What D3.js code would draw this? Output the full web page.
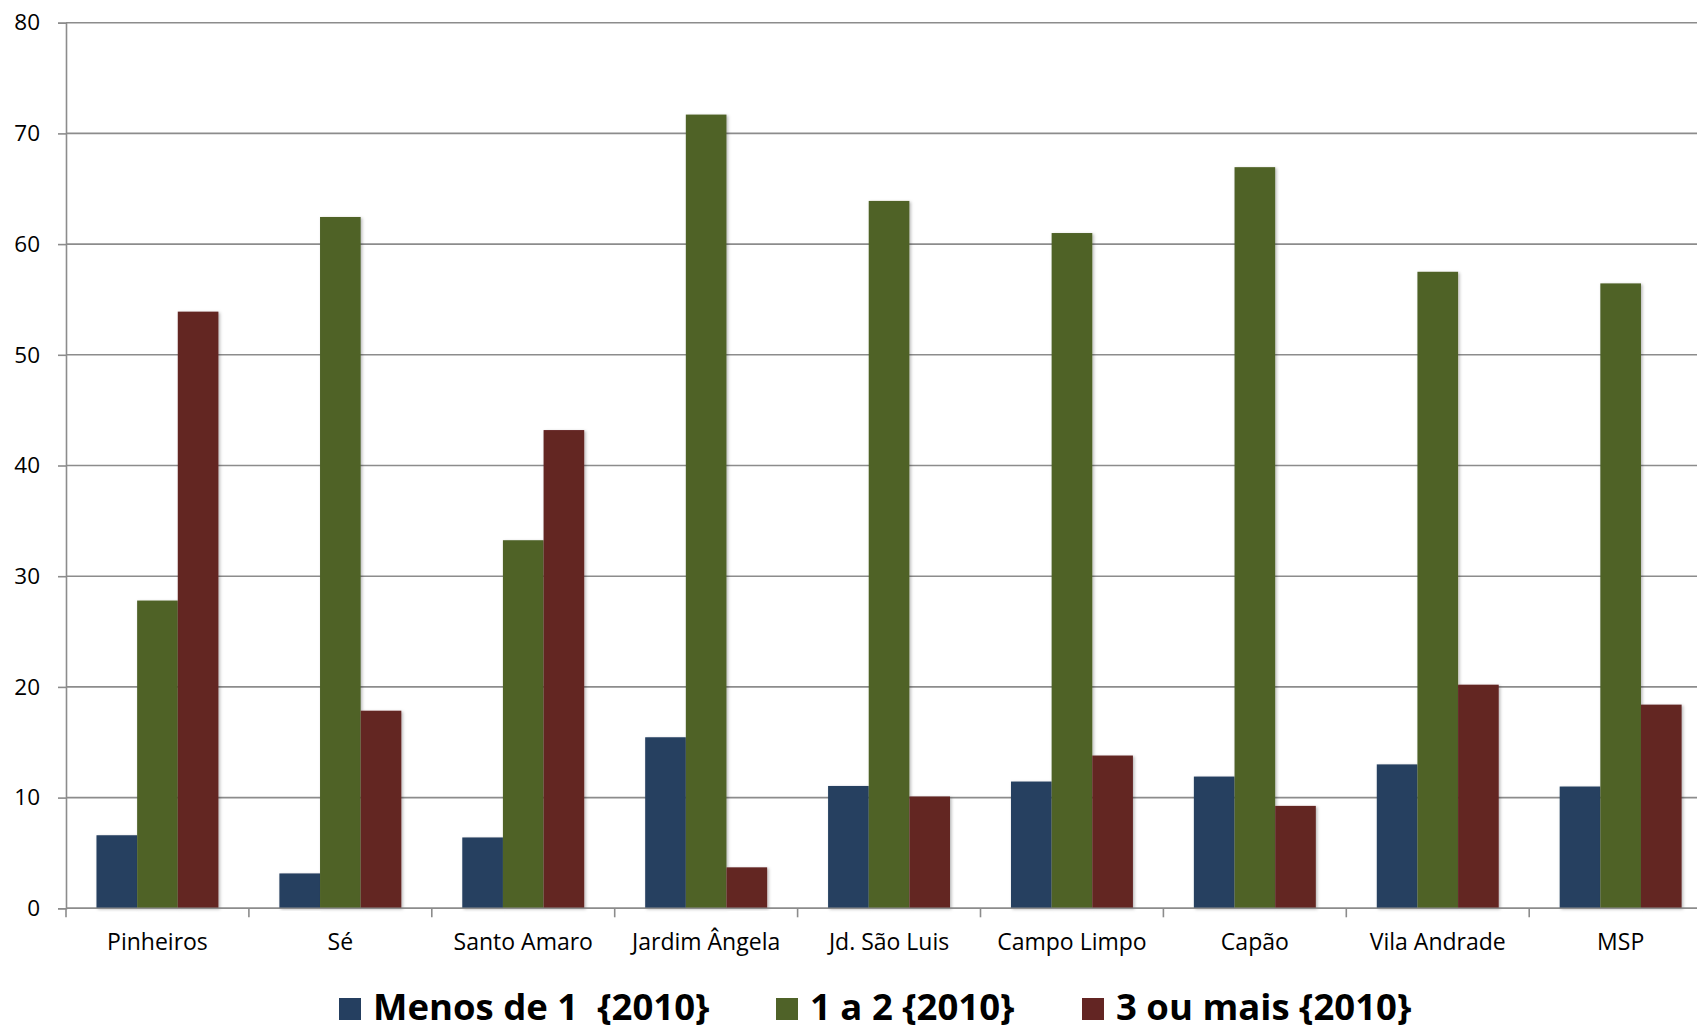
<!DOCTYPE html>
<html>
<head>
<meta charset="utf-8">
<script src="https://cdn.jsdelivr.net/npm/d3@7"></script>
<style>
  html, body { margin: 0; padding: 0; background: #fff; overflow: hidden; }
  svg { display: block; }
  text { font-family: "Open Sans", "DejaVu Sans", sans-serif; fill: #000; }
</style>
</head>
<body>
<svg id="chart" width="1697" height="1031"></svg>
<script>
// ---- data ----
const categories = ["Pinheiros", "Sé", "Santo Amaro", "Jardim Ângela", "Jd. São Luis", "Campo Limpo", "Capão", "Vila Andrade", "MSP"];
const seriesNames = ["Menos de 1  {2010}", "1 a 2 {2010}", "3 ou mais {2010}"];
const menosDe1 = [6.6, 3.15, 6.4, 15.45, 11.05, 11.45, 11.9, 13.0, 11.0];
const umADois  = [27.8, 62.45, 33.25, 71.7, 63.9, 61.0, 66.95, 57.5, 56.45];
const tresOuMais = [53.9, 17.85, 43.2, 3.7, 10.1, 13.8, 9.25, 20.2, 18.4];
const yTicks = [0, 10, 20, 30, 40, 50, 60, 70, 80];
const colors = ["#253F60", "#4F6228", "#632523"];

const seriesValues = [menosDe1, umADois, tresOuMais];

// ---- layout ----
const W = 1697, H = 1031;
const left = 66, bandW = 182.9, yBottom = 908.3, yTop = 22.7;

const svg = d3.select("#chart");
const defs = svg.append("defs");
const f = defs.append("filter").attr("id", "shadow").attr("x", "-20%").attr("y", "-5%").attr("width", "140%").attr("height", "110%");
f.append("feDropShadow").attr("dx", 1.5).attr("dy", 1).attr("stdDeviation", 1.5).attr("flood-color", "#000").attr("flood-opacity", 0.28);

const x = d3.scaleBand().domain(categories).range([left, left + bandW * categories.length]).paddingInner(0).paddingOuter(0);
const x1 = d3.scaleBand().domain(d3.range(seriesNames.length)).range([bandW / 6, bandW * 5 / 6]).padding(0);
const y = d3.scaleLinear().domain([0, 80]).range([yBottom, yTop]);

// gridlines
svg.append("g").selectAll("line").data(yTicks).join("line")
  .attr("x1", left).attr("x2", W)
  .attr("y1", d => y(d)).attr("y2", d => y(d))
  .attr("stroke", "#8c8c8c").attr("stroke-width", 1.6);

// y axis
const yAxis = svg.append("g").attr("transform", `translate(${left},0)`)
  .call(d3.axisLeft(y).tickValues(yTicks).tickSize(8).tickPadding(18));
yAxis.select(".domain").attr("stroke", "#8c8c8c").attr("stroke-width", 1.6);
yAxis.selectAll(".tick line").attr("stroke", "#8c8c8c").attr("stroke-width", 1.6);
yAxis.selectAll(".tick text").style("font-size", "22.5px").style("font-family", '"Open Sans", sans-serif').attr("fill", "#000");

// bars
const groups = svg.append("g").selectAll("g").data(categories).join("g")
  .attr("transform", d => `translate(${x(d)},0)`);
groups.selectAll("rect")
  .data((c, i) => seriesValues.map((vals, s) => ({ s, v: vals[i] })))
  .join("rect")
  .attr("x", d => x1(d.s))
  .attr("width", x1.bandwidth())
  .attr("y", d => y(d.v))
  .attr("height", d => y(0) - y(d.v))
  .attr("fill", d => colors[d.s])
  .attr("filter", "url(#shadow)");

// x axis baseline + boundary ticks
svg.append("line").attr("x1", left).attr("x2", W).attr("y1", y(0)).attr("y2", y(0))
  .attr("stroke", "#8c8c8c").attr("stroke-width", 1.6);
svg.append("g").selectAll("line").data(categories).join("line")
  .attr("x1", d => x(d)).attr("x2", d => x(d))
  .attr("y1", y(0)).attr("y2", y(0) + 9)
  .attr("stroke", "#8c8c8c").attr("stroke-width", 1.6);

// category labels
const xAxis = svg.append("g").attr("transform", `translate(0,${y(0)})`)
  .call(d3.axisBottom(x).tickSize(0).tickPadding(25));
xAxis.select(".domain").remove();
xAxis.selectAll(".tick text").style("font-size", "23px").style("font-family", '"Open Sans", sans-serif').attr("fill", "#000");

// legend
const legendSquareX = [339, 776, 1082];
const legend = svg.append("g");
seriesNames.forEach((name, i) => {
  const g = legend.append("g").attr("transform", `translate(${legendSquareX[i]},1009)`);
  g.append("rect").attr("x", 0).attr("y", -11).attr("width", 22).attr("height", 22).attr("fill", colors[i]);
  g.append("text").attr("x", 34).attr("y", 11)
    .attr("xml:space", "preserve")
    .style("white-space", "pre")
    .style("font-size", "36.5px").style("font-weight", "700")
    .text(name);
});
</script>
</body>
</html>
